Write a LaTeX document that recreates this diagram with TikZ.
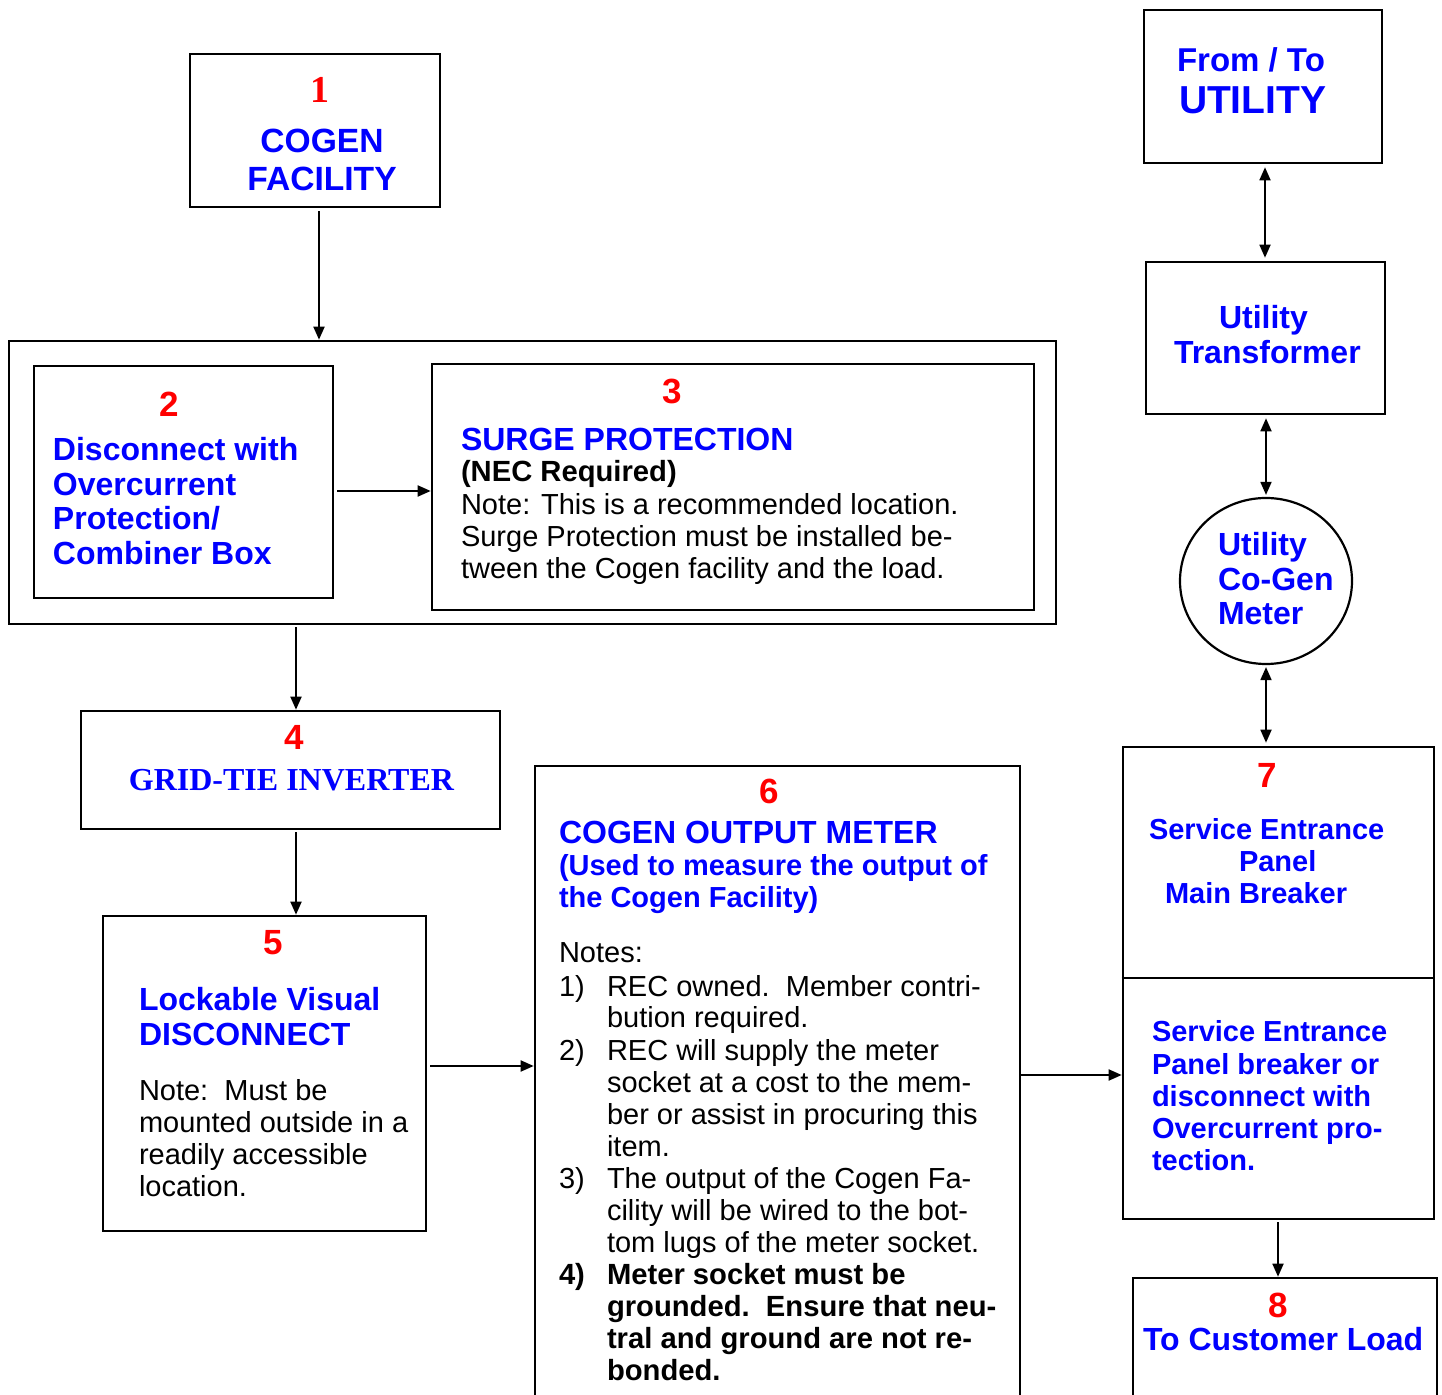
\documentclass[tikz,border=0pt]{standalone}
\usepackage{fontspec}
\setmainfont{Liberation Sans}
\newfontfamily\timesf{Liberation Serif}
\usetikzlibrary{arrows.meta,fit,shapes.geometric}
\definecolor{tblue}{RGB}{0,0,255}
\definecolor{tred}{RGB}{255,0,0}
\tikzset{
  frame/.style={draw, line width=1.3pt, inner sep=0pt},
  conn/.style={line width=0.9pt, -{Triangle[length=6.5pt,width=5.5pt]}},
  bconn/.style={line width=0.9pt, {Triangle[length=6.5pt,width=5.5pt]}-{Triangle[length=6.5pt,width=5.5pt]}},
  txt/.style={anchor=base west, inner sep=0pt, outer sep=0pt},
  ttl/.style={txt, text=tblue, font=\fontsize{16}{16}\selectfont\bfseries},
  bigttl/.style={txt, text=tblue, font=\fontsize{16.8}{16.8}\selectfont\bfseries},
  sub/.style={txt, text=tblue, font=\fontsize{14.5}{14.5}\selectfont\bfseries},
  note/.style={txt, font=\fontsize{14.5}{14.5}\selectfont},
  bnote/.style={txt, font=\fontsize{14.6}{14.6}\selectfont\bfseries},
  num/.style={anchor=base, inner sep=0pt, text=tred, font=\fontsize{17.5}{17.5}\selectfont\bfseries},
}
\begin{document}
\begin{tikzpicture}[x=0.5pt,y=-0.5pt]
\useasboundingbox[fill=white] (0,0) rectangle (1442,1395);

% ---- boxes ----
\node[frame, fit={(190,54) (440,207)}] (b1) {};
\node[frame, fit={(9,341) (1056,624)}] (outer) {};
\node[frame, fit={(34,366) (333,598)}] (b2) {};
\node[frame, fit={(432,364) (1034,610)}] (b3) {};
\node[frame, fit={(81,711) (500,829)}] (b4) {};
\node[frame, fit={(103,916) (426,1231)}] (b5) {};
\node[frame, fit={(535,766) (1020,1404)}] (b6) {};
\node[frame, fit={(1144,10) (1382,163)}] (util) {};
\node[frame, fit={(1146,262) (1385,414)}] (trans) {};
\node[draw, ellipse, line width=1.1pt, inner sep=0pt, minimum width=86pt, minimum height=83pt] (meter) at (1266,581) {};
\node[frame, fit={(1123,747) (1434,1219)}] (b7) {};
\node[frame, fit={(1133,1278) (1437,1404)}] (b8) {};

\coordinate (d7) at (0,978);
\draw[line width=1.1pt] (d7 -| b7.west) -- (d7 -| b7.east);

% ---- connectors ----
\coordinate (c1) at (319,0);
\coordinate (c4) at (296,0);
\coordinate (r2) at (0,491);
\coordinate (r5) at (0,1066);
\coordinate (r6) at (0,1075);
\coordinate (cu) at (1265,0);
\coordinate (c8) at (1278,0);

\draw[conn, shorten <=1.5pt] (c1 |- b1.south) -- (c1 |- outer.north);
\draw[conn, shorten <=1.5pt] (r2 -| b2.east) -- (r2 -| b3.west);
\draw[conn, shorten <=1pt] (c4 |- outer.south) -- (c4 |- b4.north);
\draw[conn, shorten <=1pt] (c4 |- b4.south) -- (c4 |- b5.north);
\draw[conn, shorten <=1.5pt] (r5 -| b5.east) -- (r5 -| b6.west);
\draw[conn] (r6 -| b6.east) -- (r6 -| b7.west);
\draw[bconn, shorten <=1.5pt, shorten >=1.5pt] (cu |- util.south) -- (cu |- trans.north);
\draw[bconn, shorten <=1.5pt, shorten >=1pt] (meter.north |- trans.south) -- (meter.north);
\draw[bconn, shorten <=1pt, shorten >=1.5pt] (meter.south) -- (meter.south |- b7.north);
\draw[conn, shorten <=1pt] (c8 |- b7.south) -- (c8 |- b8.north);

% ---- box 1 ----
\node[anchor=base, inner sep=0pt, text=tred, font=\timesf\fontsize{19}{19}\selectfont\bfseries] (n1) at (319.5,103) {1};
\node[bigttl, anchor=base] (t1a) at (322,153) {COGEN};
\node[bigttl, anchor=base] (t1b) at (322,191) {FACILITY};

% ---- box 2 ----
\node[num] (n2) at (169,417) {2};
\node[ttl] (t2a) at (53,461) {Disconnect with};
\node[ttl] (t2b) at (53,496) {Overcurrent};
\node[ttl] (t2c) at (53,530) {Protection/};
\node[ttl] (t2d) at (53,565) {Combiner Box};

% ---- box 3 ----
\node[num] (n3) at (672,404) {3};
\node[ttl] (t3a) at (461,451) {SURGE PROTECTION};
\node[bnote] (t3b) at (461,482) {(NEC Required)};
\node[note] (t3c) at (461,515) {Note: This is a recommended location.};
\node[note] (t3d) at (461,547) {Surge Protection must be installed be-};
\node[note] (t3e) at (461,579) {tween the Cogen facility and the load.};

% ---- box 4 ----
\node[num] (n4) at (294,750) {4};
\node[anchor=base, inner sep=0pt, text=tblue, font=\timesf\fontsize{16}{16}\selectfont\bfseries] (t4) at (291.5,791) {GRID-TIE INVERTER};

% ---- box 5 ----
\node[num] (n5) at (273,955) {5};
\node[ttl] (t5a) at (139,1010) {Lockable Visual};
\node[ttl] (t5b) at (139,1045) {DISCONNECT};
\node[note] (t5c) at (139,1100) {Note:\ \ Must be};
\node[note] (t5d) at (139,1132) {mounted outside in a};
\node[note] (t5e) at (139,1164) {readily accessible};
\node[note] (t5f) at (139,1196) {location.};

% ---- box 6 ----
\node[num] (n6) at (769,804) {6};
\node[ttl] (t6a) at (559,844) {COGEN OUTPUT METER};
\node[sub] (t6b) at (559,876) {(Used to measure the output of};
\node[sub] (t6c) at (559,908) {the Cogen Facility)};
\node[note] (t6d) at (559,963) {Notes:};
\node[note] (k1) at (559,996) {1)};
\node[note] (l1a) at (607,996) {REC owned.\ \ Member contri-};
\node[note] (l1b) at (607,1028) {bution required.};
\node[note] (k2) at (559,1060) {2)};
\node[note] (l2a) at (607,1060) {REC will supply the meter};
\node[note] (l2b) at (607,1092) {socket at a cost to the mem-};
\node[note] (l2c) at (607,1124) {ber or assist in procuring this};
\node[note] (l2d) at (607,1156) {item.};
\node[note] (k3) at (559,1188) {3)};
\node[note] (l3a) at (607,1188) {The output of the Cogen Fa-};
\node[note] (l3b) at (607,1220) {cility will be wired to the bot-};
\node[note] (l3c) at (607,1252) {tom lugs of the meter socket.};
\node[bnote] (k4) at (559,1284) {4)};
\node[bnote] (l4a) at (607,1284) {Meter socket must be};
\node[bnote] (l4b) at (607,1316) {grounded.\ \ Ensure that neu-};
\node[bnote] (l4c) at (607,1348) {tral and ground are not re-};
\node[bnote] (l4d) at (607,1380) {bonded.};

% ---- utility side ----
\node[txt, text=tblue, font=\fontsize{16.5}{16.5}\selectfont\bfseries] (tu1) at (1177,72) {From / To};
\node[txt, text=tblue, font=\fontsize{19.5}{19.5}\selectfont\bfseries] (tu2) at (1179,114) {UTILITY};
\node[ttl] (tt1) at (1219,329) {Utility};
\node[ttl] (tt2) at (1174,364) {Transformer};
\node[ttl] (tm1) at (1218,556) {Utility};
\node[ttl] (tm2) at (1218,591) {Co-Gen};
\node[ttl] (tm3) at (1218,625) {Meter};

% ---- box 7 ----
\node[num] (n7) at (1267,788) {7};
\node[sub] (t7a) at (1149,840) {Service Entrance};
\node[sub] (t7b) at (1239,872) {Panel};
\node[sub] (t7c) at (1165,904) {Main Breaker};
\node[sub] (t7d) at (1152,1042) {Service Entrance};
\node[sub] (t7e) at (1152,1074) {Panel breaker or};
\node[sub] (t7f) at (1152,1106) {disconnect with};
\node[sub] (t7g) at (1152,1138) {Overcurrent pro-};
\node[sub] (t7h) at (1152,1170) {tection.};

% ---- box 8 ----
\node[num] (n8) at (1278,1317) {8};
\node[ttl] (t8) at (1143,1350) {To Customer Load};
\end{tikzpicture}
\end{document}
